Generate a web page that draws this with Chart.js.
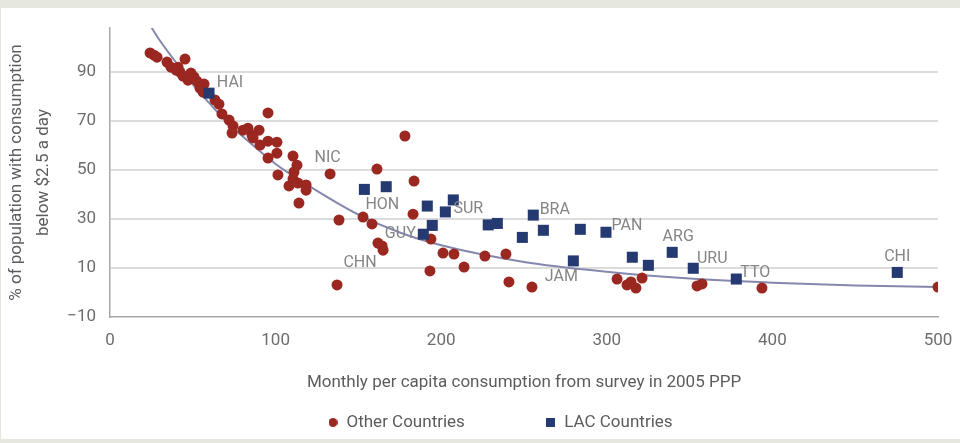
<!DOCTYPE html>
<html>
<head>
<meta charset="utf-8">
<script src="https://cdn.jsdelivr.net/npm/chart.js@4/dist/chart.umd.min.js"></script>
<style>
  html, body { margin: 0; padding: 0; width: 960px; height: 443px; overflow: hidden; background: #e6e8e0; }
  #panel { position: absolute; left: 1px; top: 8px; width: 959px; height: 431px; background: #ffffff; }
  #c { position: absolute; left: 0; top: 0; }
</style>
</head>
<body>
<div id="panel"></div>
<canvas id="c" width="960" height="443"></canvas>
<script>
// Other countries: monthly consumption (2005 PPP) and poverty headcount (%)
const otherX = [24.2, 26.6, 28.4, 34.4, 45.3, 36.8, 39.9, 41.1, 42.3, 44.1,
                48.9, 50.7, 47.1, 52.5, 56.8, 54.3, 56.2, 63.4, 65.8, 67.6,
                71.9, 74.3, 73.7, 80.3, 83.3, 85.7, 86.4, 90.0, 90.6, 95.4,
                95.4, 100.8, 100.8, 95.4, 110.5, 112.9, 101.4, 111.1, 110.5, 108.1,
                113.5, 118.4, 118.4, 114.1, 132.9, 138.3, 137.1, 152.8, 158.2, 161.2,
                178.1, 183.6, 183.0, 161.8, 164.3, 164.9, 193.8, 201.1, 207.7, 226.4,
                193.2, 213.8, 239.1, 240.9, 254.8, 306.2, 312.2, 314.6, 317.6, 321.3,
                354.5, 357.5, 393.7, 500.0];
const otherY = [97.8, 96.9, 96.1, 94.1, 95.3, 92.0, 90.8, 92.0, 90.0, 88.4,
                89.6, 88.0, 86.7, 86.3, 85.1, 83.5, 81.8, 78.6, 76.9, 72.9,
                70.4, 68.0, 65.1, 66.3, 67.1, 64.3, 63.1, 66.3, 60.2, 61.8,
                73.3, 61.4, 56.9, 54.9, 55.7, 52.0, 48.0, 49.2, 46.3, 43.5,
                44.7, 43.9, 41.8, 36.5, 48.4, 29.6, 3.1, 30.8, 28.0, 50.4,
                63.9, 45.5, 32.0, 20.2, 19.0, 17.3, 21.8, 16.1, 15.7, 14.9,
                8.8, 10.4, 15.7, 4.3, 2.2, 5.5, 3.1, 4.3, 1.8, 5.9,
                2.7, 3.5, 1.8, 2.2];
const otherCodes = ['', '', '', '', '', '', '', '', '', '',
                    '', '', '', '', '', '', '', '', '', '',
                    '', '', '', '', '', '', '', '', '', '',
                    '', '', '', '', '', '', '', '', '', '',
                    '', '', '', '', 'NIC', '', 'CHN', '', '', '',
                    '', '', '', '', '', '', '', '', '', '',
                    '', '', '', '', '', '', '', '', '', '',
                    '', '', '', ''];

// Latin America and Caribbean countries
const lacX = [59.8, 153.6, 166.8, 191.6, 207.3, 202.5, 194.6, 189.2, 228.4, 233.9,
              255.6, 249.0, 261.7, 284.0, 299.5, 279.8, 315.4, 325.1, 339.5, 352.2,
              378.2, 475.4];
const lacY = [81.4, 42.1, 43.2, 35.3, 37.8, 32.9, 27.4, 23.8, 27.6, 28.2,
              31.6, 22.5, 25.4, 25.8, 24.6, 12.9, 14.4, 11.1, 16.4, 9.9,
              5.5, 8.2];
const lacCodes = ['HAI', 'HON', '', '', '', 'SUR', '', 'GUY', '', '',
                  'BRA', '', '', '', 'PAN', 'JAM', '', '', 'ARG', 'URU',
                  'TTO', 'CHI'];

// Fitted poverty curve
const fitX = [25, 30, 40, 50, 60, 70, 80, 100, 125, 150, 175, 200, 250, 300, 350, 400, 450, 500];
const fitY = [108.3, 103.0, 93.8, 85.0, 77.3, 70.0, 63.8, 52.5, 41.5, 31.8, 24.5, 19.3, 12.5, 8.5, 5.7, 4.0, 2.9, 2.2];

const xTicks = [0, 100, 200, 300, 400, 500];
const yTicks = [-10, 10, 30, 50, 70, 90];

const FONT = 'Roboto, "Open Sans", sans-serif';
const RED = '#9a2720';
const NAVY = '#243a70';
const FIT = '#8587ad';

// pixel offsets of each country code relative to its marker
const labelOffset = {
  HAI: [21, -10.5], HON: [18, 16], GUY: [-23, 0], SUR: [23, -2.5], BRA: [21.5, -5],
  PAN: [21, -6], ARG: [6, -15], URU: [19, -9], TTO: [19, -6], JAM: [-12, 16],
  CHI: [0, -15], NIC: [-2.5, -16], CHN: [23, -22]
};

function toPoints(xs, ys) {
  return xs.map((x, i) => ({ x: x, y: ys[i] }));
}

function legendMark(shape, color, size) {
  const cv = document.createElement('canvas');
  cv.width = size; cv.height = size;
  const g = cv.getContext('2d');
  g.fillStyle = color;
  if (shape === 'circle') {
    g.beginPath(); g.arc(size / 2, size / 2, size / 2, 0, Math.PI * 2); g.fill();
  } else {
    g.fillRect(0, 0, size, size);
  }
  return cv;
}
const legendMarks = [legendMark('circle', RED, 9), legendMark('rect', NAVY, 9)];

// country codes next to their markers
const codeLabels = {
  id: 'codeLabels',
  afterDatasetsDraw(chart, args, opts) {
    const ctx = chart.ctx;
    ctx.save();
    ctx.font = opts.font;
    ctx.fillStyle = opts.color;
    ctx.textAlign = 'center';
    ctx.textBaseline = 'middle';
    chart.data.datasets.forEach((ds, di) => {
      if (!ds.codes) return;
      const meta = chart.getDatasetMeta(di);
      ds.codes.forEach((code, i) => {
        if (!code) return;
        const el = meta.data[i];
        const off = labelOffset[code] || [0, -14];
        ctx.fillText(code, el.x + off[0], el.y + off[1]);
      });
    });
    ctx.restore();
  }
};

// legend sits under the plot, starting at a fixed x
const legendShift = {
  id: 'legendShift',
  afterLayout(chart, args, opts) {
    const lg = chart.legend;
    if (!lg) return;
    const w = lg.right - lg.left;
    lg.left = opts.left;
    lg.right = opts.left + w;
  }
};

new Chart(document.getElementById('c'), {
  type: 'scatter',
  data: {
    datasets: [
      {
        label: 'Other Countries',
        data: toPoints(otherX, otherY),
        codes: otherCodes,
        backgroundColor: RED,
        borderWidth: 0,
        pointStyle: 'circle',
        pointRadius: 5.5,
        pointHoverRadius: 5.5,
        order: 2
      },
      {
        label: 'LAC Countries',
        data: toPoints(lacX, lacY),
        codes: lacCodes,
        backgroundColor: NAVY,
        borderWidth: 0,
        pointStyle: 'rect',
        pointRadius: 7.8,
        pointHoverRadius: 7.8,
        order: 1
      },
      {
        label: 'Fit',
        type: 'line',
        data: toPoints(fitX, fitY),
        borderColor: FIT,
        borderWidth: 2,
        pointRadius: 0,
        cubicInterpolationMode: 'monotone',
        fill: false,
        order: 3
      }
    ]
  },
  options: {
    responsive: false,
    animation: false,
    devicePixelRatio: 1,
    layout: { padding: { top: 28, right: 22, bottom: 2, left: 0 } },
    plugins: {
      tooltip: { enabled: false },
      codeLabels: { font: '16px ' + FONT, color: '#858585' },
      legendShift: { left: 320 },
      legend: {
        position: 'bottom',
        align: 'start',
        labels: {
          usePointStyle: true,
          boxWidth: 10,
          boxHeight: 10,
          padding: 8,
          color: '#5c5c5c',
          font: { family: FONT, size: 17 },
          generateLabels(chart) {
            const items = Chart.defaults.plugins.legend.labels.generateLabels(chart)
              .filter(it => it.datasetIndex < 2)
              .sort((a, b) => a.datasetIndex - b.datasetIndex);
            items.forEach(it => {
              it.pointStyle = legendMarks[it.datasetIndex];
              if (it.datasetIndex === 0) it.text = it.text + '\u2003\u2003\u2003\u2003\u2009';
            });
            return items;
          }
        }
      }
    },
    scales: {
      x: {
        type: 'linear',
        min: 0,
        max: 500,
        afterBuildTicks: s => { s.ticks = xTicks.map(v => ({ value: v })); },
        grid: { display: false },
        border: { display: true, color: '#a8a8a8', width: 1.5 },
        ticks: { color: '#6d6d6d', font: { family: FONT, size: 17 }, padding: 6, maxRotation: 0 },
        title: {
          display: true,
          text: 'Monthly per capita consumption from survey in 2005 PPP',
          color: '#5c5c5c',
          font: { family: FONT, size: 17 },
          padding: { top: 0, bottom: 13 }
        },
        afterFit: s => { s.height = 89; }
      },
      y: {
        min: -10,
        max: 108,
        afterBuildTicks: s => { s.ticks = yTicks.map(v => ({ value: v })); },
        grid: {
          color: c => (c.tick && c.tick.value === -10) ? 'rgba(0,0,0,0)' : '#dcdcdc',
          lineWidth: 2,
          drawTicks: false
        },
        border: { display: true, color: '#a8a8a8', width: 1.5 },
        ticks: {
          color: '#6d6d6d',
          font: { family: FONT, size: 17 },
          padding: 14,
          callback: v => v < 0 ? '\u2212' + Math.abs(v) : String(v)
        },
        title: {
          display: true,
          text: ['% of population with consumption', 'below $2.5 a day'],
          color: '#5c5c5c',
          font: { family: FONT, size: 17, lineHeight: 1.55 },
          padding: { top: 4, bottom: 0 }
        },
        afterFit: s => { s.width = 110; }
      }
    }
  },
  plugins: [codeLabels, legendShift]
});
</script>
</body>
</html>
